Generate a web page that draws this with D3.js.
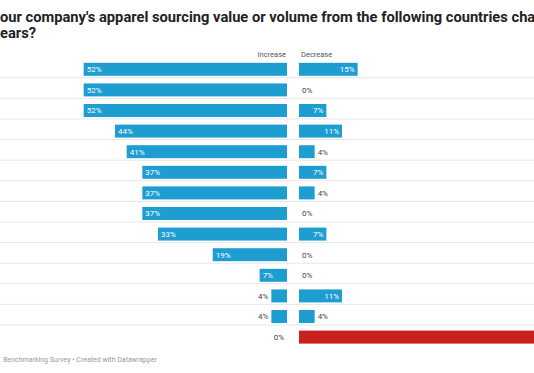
<!DOCTYPE html>
<html>
<head>
<meta charset="utf-8">
<script src="https://cdn.jsdelivr.net/npm/d3@7"></script>
<style>
  body { margin: 0; background: #fff; }
  svg { display: block; font-family: Roboto, "Noto Sans", sans-serif; }
</style>
</head>
<body>
<script>
// survey answers, one row per country (names are outside the visible area)
let increase = [52, 52, 52, 44, 41, 37, 37, 37, 33, 19, 7, 4, 4, 0];
let decrease = [15, 0, 7, 11, 4, 7, 4, 0, 7, 0, 0, 11, 4, 74];
let rows = increase.map((d, i) => i);
let headers = ["Increase", "Decrease"];
let titleLines = ["our company's apparel sourcing value or volume from the following countries changed", "ears?"];
let footer = "Benchmarking Survey \u2022 Created with Datawrapper";

let w = 534;
let h = 373;
let mid1 = 287;   // right edge of increase column
let mid2 = 299;   // left edge of decrease column
let blue = "#1d9dd0";
let red = "#c8201f";

let svg = d3.select("body")
            .append("svg")
            .attr("width", w)
            .attr("height", h);

let xScale = d3.scaleLinear()
               .domain([0, 100])
               .range([0, 391]);

let yScale = d3.scaleBand()
               .domain(rows)
               .range([59, 347.4])
               .paddingInner(0.37)
               .paddingOuter(0.185);

// title
svg.selectAll(".title")
   .data(titleLines)
   .enter()
   .append("text")
   .attr("class", "title")
   .attr("x", 0)
   .attr("y", (d, i) => 22 + i * 16)
   .style("font-size", "14.7px")
   .style("font-weight", "bold")
   .style("fill", "#222")
   .text(d => d);

// header
svg.append("text")
   .attr("x", mid1 - 1)
   .attr("y", 57)
   .attr("text-anchor", "end")
   .style("font-size", "7.5px")
   .style("fill", "#555")
   .text(headers[0]);

svg.append("text")
   .attr("x", mid2 + 2)
   .attr("y", 57)
   .style("font-size", "7.5px")
   .style("fill", "#555")
   .text(headers[1]);

// row separators
svg.selectAll(".sep")
   .data(rows.slice(0, -1))
   .enter()
   .append("line")
   .attr("x1", 0)
   .attr("x2", w)
   .attr("y1", d => yScale(d) + yScale.bandwidth() + 2)
   .attr("y2", d => yScale(d) + yScale.bandwidth() + 2)
   .style("stroke", "#e6e6e6")
   .style("stroke-width", 1);

// increase bars
svg.selectAll(".inc")
   .data(increase)
   .enter()
   .append("rect")
   .attr("class", "inc")
   .attr("x", d => mid1 - xScale(d))
   .attr("y", (d, i) => yScale(i))
   .attr("width", d => xScale(d))
   .attr("height", yScale.bandwidth())
   .style("fill", blue);

svg.selectAll(".incLabel")
   .data(increase)
   .enter()
   .append("text")
   .attr("class", "incLabel")
   .attr("x", d => d >= 7 ? mid1 - xScale(d) + 3 : mid1 - xScale(d) - 3)
   .attr("y", (d, i) => yScale(i) + yScale.bandwidth() / 2)
   .attr("dy", "0.35em")
   .attr("text-anchor", d => d >= 7 ? "start" : "end")
   .style("font-size", "8px")
   .style("fill", d => d >= 7 ? "#fff" : "#444")
   .text(d => d + "%");

// decrease bars
svg.selectAll(".dec")
   .data(decrease)
   .enter()
   .append("rect")
   .attr("class", "dec")
   .attr("x", mid2)
   .attr("y", (d, i) => yScale(i))
   .attr("width", d => xScale(d))
   .attr("height", yScale.bandwidth())
   .style("fill", (d, i) => i == rows.length - 1 ? red : blue);

svg.selectAll(".decLabel")
   .data(decrease)
   .enter()
   .append("text")
   .attr("class", "decLabel")
   .attr("x", d => d >= 7 ? mid2 + xScale(d) - 3 : mid2 + xScale(d) + 3)
   .attr("y", (d, i) => yScale(i) + yScale.bandwidth() / 2)
   .attr("dy", "0.35em")
   .attr("text-anchor", d => d >= 7 ? "end" : "start")
   .style("font-size", "8px")
   .style("fill", d => d >= 7 ? "#fff" : "#444")
   .text(d => d + "%");

// footer
svg.append("text")
   .attr("x", 157)
   .attr("y", 362)
   .attr("text-anchor", "end")
   .style("font-size", "7px")
   .style("fill", "#999")
   .text(footer);
</script>
</body>
</html>
